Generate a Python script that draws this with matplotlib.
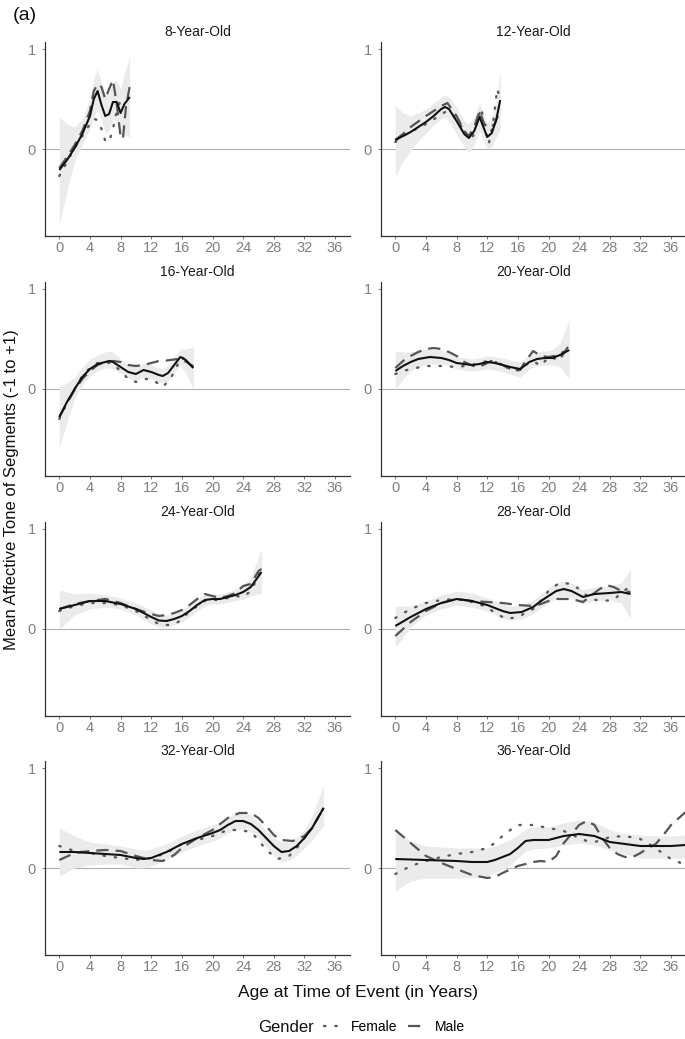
import matplotlib
matplotlib.use("Agg")
import matplotlib.pyplot as plt
from matplotlib.lines import Line2D

plt.rcParams['font.family'] = ['Liberation Sans', 'DejaVu Sans']

W, H = 685, 1039

panel_titles = ["8-Year-Old", "12-Year-Old", "16-Year-Old", "20-Year-Old",
                "24-Year-Old", "28-Year-Old", "32-Year-Old", "36-Year-Old"]
x_ticks = [0, 4, 8, 12, 16, 20, 24, 28, 32, 36]
y_ticks = [0, 1]

# ---------------- 8-Year-Old ----------------
a8_x = [0, 1, 2, 3, 4, 4.5, 5, 5.5, 6, 6.5, 7, 7.5, 8, 8.5, 9.2]
a8_y = [-0.21, -0.11, 0.01, 0.15, 0.33, 0.5, 0.58, 0.44, 0.33, 0.35, 0.47, 0.47, 0.36, 0.45, 0.52]
a8_lo = [-0.75, -0.42, -0.12, 0.05, 0.2, 0.32, 0.4, 0.28, 0.16, 0.18, 0.3, 0.28, 0.14, 0.14, 0.12]
a8_hi = [0.32, 0.25, 0.22, 0.3, 0.5, 0.7, 0.8, 0.65, 0.55, 0.55, 0.68, 0.68, 0.6, 0.75, 0.93]
f8_x = [0, 1, 2, 3, 4, 4.5, 5, 5.5, 6, 6.5, 7, 7.5, 8, 8.6]
f8_y = [-0.27, -0.13, 0.01, 0.13, 0.25, 0.3, 0.29, 0.2, 0.08, 0.07, 0.2, 0.38, 0.49, 0.5]
m8_x = [0, 1, 2, 3, 4, 4.5, 5, 5.5, 6, 6.5, 7, 7.5, 8, 8.3, 8.7, 9.2]
m8_y = [-0.19, -0.08, 0.04, 0.18, 0.38, 0.58, 0.65, 0.62, 0.5, 0.6, 0.69, 0.45, 0.12, 0.1, 0.42, 0.63]

# ---------------- 12-Year-Old ----------------
a12_x = [0, 1, 2, 3, 4, 5, 6, 6.5, 7, 8, 9, 9.6, 10.3, 11, 11.5, 12, 12.6, 13.2, 13.7]
a12_y = [0.09, 0.13, 0.17, 0.22, 0.27, 0.33, 0.4, 0.42, 0.4, 0.28, 0.15, 0.11, 0.18, 0.32, 0.22, 0.12, 0.16, 0.3, 0.49]
a12_lo = [-0.28, -0.12, -0.02, 0.08, 0.16, 0.24, 0.3, 0.32, 0.28, 0.15, 0.02, -0.03, 0.04, 0.18, 0.08, 0.0, 0.02, 0.12, 0.2]
a12_hi = [0.43, 0.36, 0.33, 0.36, 0.4, 0.46, 0.52, 0.54, 0.52, 0.42, 0.28, 0.25, 0.32, 0.46, 0.36, 0.26, 0.32, 0.5, 0.8]
f12_x = [0, 1, 2.5, 4, 5.5, 6.5, 7.5, 8.5, 9.3, 10, 10.6, 11.2, 11.7, 12.2, 12.8, 13.3, 13.7]
f12_y = [0.07, 0.13, 0.19, 0.25, 0.32, 0.37, 0.34, 0.24, 0.14, 0.09, 0.25, 0.41, 0.22, 0.05, 0.28, 0.6, 0.5]
m12_x = [0, 1, 2, 4, 6, 6.8, 8, 9, 9.6, 10.3, 11, 11.6, 12.2, 13, 13.7]
m12_y = [0.09, 0.15, 0.22, 0.33, 0.43, 0.46, 0.33, 0.18, 0.13, 0.22, 0.38, 0.25, 0.21, 0.25, 0.4]

# ---------------- 16-Year-Old ----------------
a16_x = [0, 1, 2, 3, 4, 5, 6, 6.5, 7, 8, 9, 10, 11, 12, 13, 13.5, 14.2, 15, 15.8, 16.5, 17.5]
a16_y = [-0.28, -0.13, 0.0, 0.12, 0.2, 0.25, 0.27, 0.28, 0.27, 0.22, 0.17, 0.15, 0.19, 0.17, 0.14, 0.13, 0.16, 0.24, 0.32, 0.29, 0.21]
a16_lo = [-0.58, -0.33, -0.1, 0.04, 0.13, 0.18, 0.21, 0.21, 0.2, 0.16, 0.11, 0.08, 0.12, 0.1, 0.07, 0.06, 0.08, 0.16, 0.24, 0.16, 0.0]
a16_hi = [0.03, 0.06, 0.12, 0.22, 0.3, 0.34, 0.37, 0.38, 0.37, 0.3, 0.24, 0.22, 0.26, 0.24, 0.21, 0.2, 0.24, 0.32, 0.4, 0.4, 0.42]
f16_x = [0, 1, 2, 3, 4, 5, 6, 7, 8, 9, 10, 11, 12, 13, 13.5, 14.5, 15.5, 16, 17, 17.5]
f16_y = [-0.3, -0.14, 0.0, 0.13, 0.21, 0.26, 0.27, 0.25, 0.18, 0.1, 0.07, 0.1, 0.1, 0.05, 0.02, 0.1, 0.25, 0.32, 0.26, 0.22]
m16_x = [0, 1, 2, 3, 4, 5, 6, 7, 8, 9, 10, 11, 12, 13, 13.5, 14.5, 15.5, 16, 17, 17.5]
m16_y = [-0.28, -0.14, -0.01, 0.1, 0.18, 0.24, 0.27, 0.28, 0.27, 0.24, 0.23, 0.24, 0.26, 0.28, 0.28, 0.29, 0.3, 0.3, 0.25, 0.22]

# ---------------- 20-Year-Old ----------------
a20_x = [0, 1, 2, 3, 4.5, 6, 7, 8, 9, 10, 11, 12, 13, 14, 15, 16.3, 17.5, 18.5, 19.5, 20.5, 21.5, 22.7]
a20_y = [0.18, 0.23, 0.27, 0.3, 0.32, 0.31, 0.29, 0.26, 0.25, 0.24, 0.25, 0.27, 0.26, 0.24, 0.22, 0.2, 0.27, 0.3, 0.31, 0.31, 0.34, 0.39]
a20_lo = [-0.01, 0.1, 0.18, 0.22, 0.25, 0.25, 0.23, 0.2, 0.19, 0.18, 0.19, 0.2, 0.19, 0.17, 0.15, 0.12, 0.2, 0.23, 0.24, 0.24, 0.22, 0.1]
a20_hi = [0.38, 0.37, 0.37, 0.39, 0.4, 0.39, 0.36, 0.32, 0.31, 0.3, 0.31, 0.33, 0.32, 0.31, 0.29, 0.27, 0.34, 0.37, 0.38, 0.39, 0.46, 0.69]
f20_x = [0, 1, 2, 4, 6, 8, 9, 10, 11, 12, 13, 14, 15, 16, 17, 18, 19, 20, 21, 22, 22.7]
f20_y = [0.15, 0.18, 0.2, 0.23, 0.23, 0.22, 0.23, 0.24, 0.26, 0.28, 0.27, 0.24, 0.2, 0.19, 0.24, 0.28, 0.23, 0.32, 0.3, 0.38, 0.44]
m20_x = [0, 1, 2, 3, 4, 5, 6, 7, 8, 9, 10.5, 11.5, 12.5, 13.5, 14.5, 15.5, 16.3, 17, 18, 19, 20, 20.7, 21.5, 22.7]
m20_y = [0.21, 0.28, 0.33, 0.37, 0.4, 0.41, 0.4, 0.37, 0.33, 0.27, 0.22, 0.24, 0.28, 0.26, 0.22, 0.18, 0.19, 0.28, 0.38, 0.33, 0.32, 0.33, 0.3, 0.44]

# ---------------- 24-Year-Old ----------------
a24_x = [0, 2, 4, 6, 8, 10, 12, 13, 14, 15, 16, 17, 18, 19, 20, 21, 22, 23, 24, 25, 26.4]
a24_y = [0.2, 0.24, 0.28, 0.28, 0.25, 0.2, 0.12, 0.085, 0.08, 0.1, 0.13, 0.18, 0.24, 0.29, 0.3, 0.3, 0.32, 0.34, 0.37, 0.42, 0.57]
a24_lo = [0.0, 0.14, 0.2, 0.22, 0.2, 0.14, 0.05, 0.02, 0.02, 0.04, 0.07, 0.12, 0.18, 0.23, 0.25, 0.25, 0.27, 0.28, 0.3, 0.33, 0.36]
a24_hi = [0.39, 0.35, 0.36, 0.34, 0.31, 0.26, 0.19, 0.15, 0.14, 0.16, 0.19, 0.24, 0.3, 0.35, 0.35, 0.35, 0.37, 0.4, 0.44, 0.52, 0.8]
f24_x = [0, 2, 4, 6, 8, 10, 12, 13, 13.5, 14.5, 15.5, 16.5, 17.5, 18.5, 19.5, 20.5, 22, 23, 24, 25, 25.8, 26.3]
f24_y = [0.18, 0.23, 0.26, 0.26, 0.24, 0.18, 0.09, 0.05, 0.04, 0.04, 0.07, 0.14, 0.2, 0.26, 0.3, 0.29, 0.31, 0.33, 0.32, 0.38, 0.5, 0.6]
m24_x = [0, 2, 4, 6, 8, 10, 12, 13, 14, 15, 16, 17, 18, 19, 20, 21, 22, 23, 24, 25, 26, 26.4]
m24_y = [0.2, 0.25, 0.28, 0.3, 0.26, 0.2, 0.15, 0.13, 0.14, 0.16, 0.19, 0.24, 0.3, 0.35, 0.33, 0.31, 0.33, 0.36, 0.43, 0.45, 0.58, 0.6]

# ---------------- 28-Year-Old ----------------
a28_x = [0, 2, 4, 6, 8, 10, 12, 14, 15, 16.5, 18, 19, 20, 21, 22, 23, 24.5, 26, 28, 29.5, 30.7]
a28_y = [0.03, 0.12, 0.2, 0.26, 0.3, 0.28, 0.24, 0.18, 0.16, 0.17, 0.22, 0.28, 0.33, 0.38, 0.4, 0.38, 0.32, 0.35, 0.36, 0.37, 0.35]
a28_lo = [-0.18, 0.02, 0.14, 0.2, 0.24, 0.22, 0.18, 0.11, 0.09, 0.1, 0.15, 0.21, 0.26, 0.31, 0.33, 0.31, 0.25, 0.28, 0.29, 0.26, 0.1]
a28_hi = [0.23, 0.23, 0.28, 0.34, 0.38, 0.36, 0.31, 0.25, 0.23, 0.24, 0.29, 0.35, 0.41, 0.46, 0.48, 0.46, 0.39, 0.42, 0.43, 0.46, 0.6]
f28_x = [0, 2, 4, 6, 8, 10, 12, 13, 14.5, 16, 17, 18, 19, 20, 21, 22, 23, 24, 25.5, 27, 28.5, 29.5, 30.7]
f28_y = [0.11, 0.2, 0.26, 0.29, 0.3, 0.27, 0.22, 0.16, 0.1, 0.12, 0.16, 0.2, 0.28, 0.38, 0.44, 0.46, 0.45, 0.4, 0.3, 0.28, 0.29, 0.36, 0.43]
m28_x = [0, 2, 4, 6, 8, 10, 12, 14, 16, 18, 19, 20, 21, 22, 23, 24.5, 25.5, 26.5, 27.5, 28.5, 29.5, 30.7]
m28_y = [-0.07, 0.07, 0.18, 0.26, 0.3, 0.28, 0.27, 0.26, 0.24, 0.23, 0.25, 0.28, 0.3, 0.3, 0.3, 0.27, 0.33, 0.39, 0.44, 0.42, 0.38, 0.37]

# ---------------- 32-Year-Old ----------------
a32_x = [0, 2, 4, 6, 8, 10, 11, 12, 14, 16, 18, 20, 21, 22, 23, 24, 25, 26, 27, 28, 29, 30, 31, 32, 33, 34.5]
a32_y = [0.16, 0.16, 0.15, 0.14, 0.13, 0.1, 0.09, 0.1, 0.16, 0.24, 0.3, 0.35, 0.38, 0.43, 0.47, 0.47, 0.44, 0.38, 0.3, 0.22, 0.16, 0.17, 0.22, 0.3, 0.4, 0.6]
a32_lo = [-0.08, 0.0, 0.03, 0.04, 0.04, 0.0, 0.0, 0.02, 0.08, 0.16, 0.22, 0.27, 0.3, 0.35, 0.39, 0.39, 0.36, 0.3, 0.21, 0.12, 0.06, 0.08, 0.13, 0.2, 0.28, 0.42]
a32_hi = [0.4, 0.32, 0.26, 0.24, 0.22, 0.19, 0.18, 0.19, 0.24, 0.32, 0.38, 0.43, 0.46, 0.51, 0.56, 0.56, 0.53, 0.46, 0.38, 0.31, 0.26, 0.26, 0.31, 0.38, 0.52, 0.83]
f32_x = [0, 2, 4, 6, 8, 10, 12, 14, 16, 18, 20, 22, 23.5, 25, 26, 27, 28.5, 30, 31, 32, 33, 34.5]
f32_y = [0.22, 0.17, 0.15, 0.12, 0.1, 0.08, 0.1, 0.15, 0.24, 0.28, 0.32, 0.38, 0.38, 0.36, 0.28, 0.18, 0.09, 0.12, 0.2, 0.3, 0.4, 0.6]
m32_x = [0, 2, 4, 6, 8, 10, 12, 13.5, 15, 16, 18, 20, 22, 23.5, 25, 26, 27, 28, 29, 30.5, 32, 33, 34.5]
m32_y = [0.08, 0.15, 0.17, 0.18, 0.17, 0.12, 0.08, 0.07, 0.13, 0.2, 0.3, 0.38, 0.5, 0.55, 0.55, 0.5, 0.42, 0.33, 0.28, 0.27, 0.32, 0.4, 0.6]

# ---------------- 36-Year-Old ----------------
a36_x = [0, 2, 4, 6, 8, 10, 12, 13, 14, 15, 16, 17, 18, 20, 22, 24, 26, 28, 30, 32, 34, 36, 37.9]
a36_y = [0.09, 0.085, 0.08, 0.075, 0.07, 0.06, 0.06, 0.08, 0.11, 0.14, 0.2, 0.27, 0.28, 0.28, 0.32, 0.34, 0.32, 0.26, 0.24, 0.22, 0.22, 0.22, 0.23]
a36_lo = [-0.23, -0.13, -0.1, -0.1, -0.1, -0.1, -0.08, -0.05, -0.02, 0.03, 0.1, 0.17, 0.19, 0.2, 0.23, 0.25, 0.23, 0.18, 0.14, 0.1, 0.1, 0.1, 0.1]
a36_hi = [0.38, 0.27, 0.22, 0.21, 0.2, 0.2, 0.2, 0.22, 0.25, 0.28, 0.33, 0.39, 0.41, 0.41, 0.45, 0.48, 0.46, 0.38, 0.34, 0.33, 0.32, 0.32, 0.33]
f36_x = [0, 2, 4, 6, 8, 10, 12, 13, 14, 15, 16, 18, 20, 22, 24, 25, 26, 27, 28, 30, 32, 34, 35, 36, 37.9]
f36_y = [-0.06, 0.02, 0.07, 0.11, 0.14, 0.16, 0.2, 0.25, 0.32, 0.38, 0.43, 0.43, 0.4, 0.37, 0.3, 0.27, 0.26, 0.28, 0.31, 0.32, 0.29, 0.2, 0.14, 0.09, 0.03]
m36_x = [0, 2, 4, 6, 8, 10, 12, 13, 14, 16, 18, 19, 20, 21, 22, 24, 25, 26, 27, 28, 29, 30, 31, 32, 33, 34, 35, 36, 37.9]
m36_y = [0.38, 0.25, 0.12, 0.05, -0.01, -0.07, -0.1, -0.09, -0.05, 0.02, 0.06, 0.07, 0.06, 0.12, 0.25, 0.43, 0.47, 0.43, 0.3, 0.2, 0.14, 0.11, 0.11, 0.15, 0.2, 0.24, 0.33, 0.43, 0.56]

panels = [
    (a8_x, a8_y, a8_lo, a8_hi, f8_x, f8_y, m8_x, m8_y),
    (a12_x, a12_y, a12_lo, a12_hi, f12_x, f12_y, m12_x, m12_y),
    (a16_x, a16_y, a16_lo, a16_hi, f16_x, f16_y, m16_x, m16_y),
    (a20_x, a20_y, a20_lo, a20_hi, f20_x, f20_y, m20_x, m20_y),
    (a24_x, a24_y, a24_lo, a24_hi, f24_x, f24_y, m24_x, m24_y),
    (a28_x, a28_y, a28_lo, a28_hi, f28_x, f28_y, m28_x, m28_y),
    (a32_x, a32_y, a32_lo, a32_hi, f32_x, f32_y, m32_x, m32_y),
    (a36_x, a36_y, a36_lo, a36_hi, f36_x, f36_y, m36_x, m36_y),
]

fig = plt.figure(figsize=(W / 100, H / 100), dpi=100)
fig.patch.set_facecolor('white')

col_left = [45, 381]
row_top = [42, 282, 522, 761]
PW, PH = 305, 194

FEM_STYLE = dict(color='#5a5a5a', lw=1.7, linestyle=(0, (0.6, 4.2)), dash_capstyle='round')
MALE_STYLE = dict(color='#555555', lw=1.6, linestyle=(0, (5.5, 3.2)), dash_capstyle='butt')
ALL_STYLE = dict(color='#111111', lw=1.5, solid_capstyle='butt')

for i, (title, data) in enumerate(zip(panel_titles, panels)):
    r, c = divmod(i, 2)
    L, T = col_left[c], row_top[r]
    ax = fig.add_axes([L / W, 1 - (T + PH) / H, PW / W, PH / H])
    ax.set_facecolor('none')
    ax_x, ax_y, lo, hi, fx, fy, mx, my = data
    ax.axhline(0, color='#b0b0b0', lw=0.8, zorder=1)
    ax.fill_between(ax_x, lo, hi, color='#ebebeb', lw=0, zorder=2)
    ax.plot(fx, fy, zorder=3, **FEM_STYLE)
    ax.plot(mx, my, zorder=3, **MALE_STYLE)
    ax.plot(ax_x, ax_y, zorder=4, **ALL_STYLE)
    ax.set_xlim(-1.87, 37.95)
    ax.set_ylim(-0.87, 1.07)
    ax.set_xticks(x_ticks)
    ax.set_yticks(y_ticks)
    ax.set_yticklabels([str(v) for v in y_ticks])
    for s in ['top', 'right']:
        ax.spines[s].set_visible(False)
    for s in ['left', 'bottom']:
        ax.spines[s].set_color('#333333')
        ax.spines[s].set_linewidth(0.9)
    ax.tick_params(axis='both', length=2.3, width=0.7, color='#777777',
                   labelcolor='#808080', labelsize=10.5)
    ax.tick_params(axis='x', pad=1.5)
    ax.tick_params(axis='y', pad=4.5)
    fig.text((L + PW / 2) / W, 1 - (T - 10) / H, title, ha='center', va='center',
             fontsize=10, color='#1a1a1a')

fig.text(13 / W, 1 - 16 / H, "(a)", ha='left', va='center', fontsize=14, color='#111111')
fig.text(12 / W, 1 - 490 / H, "Mean Affective Tone of Segments (-1 to +1)",
         rotation=90, ha='center', va='center', fontsize=12, color='#111111')
fig.text(358 / W, 1 - 993 / H, "Age at Time of Event (in Years)",
         ha='center', va='center', fontsize=12.5, color='#111111')

fig.text(258 / W, 1 - 1027 / H, "Gender", ha='left', va='center', fontsize=12, color='#111111')
handles = [Line2D([], [], **FEM_STYLE), Line2D([], [], **MALE_STYLE)]
fig.legend(handles, ["Female", "Male"], loc='center left',
           bbox_to_anchor=(324 / W, 1 - 1027 / H), ncol=2, frameon=False,
           fontsize=10, handlelength=1.0, handletextpad=0.9, columnspacing=0.8,
           borderpad=0, borderaxespad=0)

fig.savefig("out.png", dpi=100, facecolor='white')
